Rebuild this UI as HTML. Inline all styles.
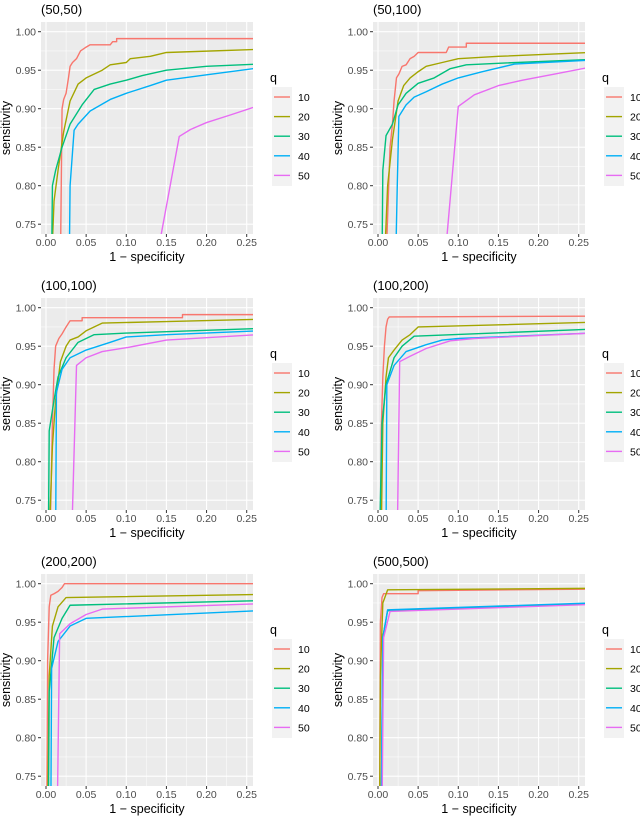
<!DOCTYPE html>
<html><head><meta charset="utf-8"><style>
html,body{margin:0;padding:0;background:#fff;}
svg{display:block;font-family:"Liberation Sans",sans-serif;}
</style></head><body>
<svg id="chart" width="640" height="816" viewBox="0 0 640 816" xmlns="http://www.w3.org/2000/svg"></svg>
<script>
const panelTitles = ["(50,50)","(50,100)","(100,100)","(100,200)","(200,200)","(500,500)"];
const seriesNames = ["10","20","30","40","50"];
const seriesColors = ["#F8766D","#A3A500","#00BF7D","#00B0F6","#E76BF3"];
const xTicks = [0,0.05,0.10,0.15,0.20,0.25];
const xTickLabels = ["0.00","0.05","0.10","0.15","0.20","0.25"];
const yTicks = [0.75,0.80,0.85,0.90,0.95,1.00];
const yTickLabels = ["0.75","0.80","0.85","0.90","0.95","1.00"];

const data_50_50 = [
 [[0.018,0.70],[0.019,0.80],[0.020,0.90],[0.022,0.912],[0.025,0.92],[0.028,0.94],[0.030,0.955],[0.033,0.96],[0.038,0.965],[0.043,0.975],[0.05,0.98],[0.055,0.983],[0.08,0.983],[0.083,0.987],[0.088,0.987],[0.088,0.991],[0.3,0.991]],
 [[0.007,0.70],[0.010,0.78],[0.015,0.82],[0.022,0.87],[0.03,0.91],[0.04,0.932],[0.05,0.94],[0.07,0.95],[0.08,0.957],[0.10,0.96],[0.105,0.965],[0.13,0.968],[0.15,0.973],[0.265,0.977]],
 [[0.007,0.70],[0.008,0.80],[0.012,0.82],[0.02,0.85],[0.03,0.88],[0.045,0.905],[0.06,0.925],[0.08,0.932],[0.10,0.937],[0.12,0.943],[0.15,0.95],[0.20,0.955],[0.265,0.958]],
 [[0.029,0.70],[0.030,0.80],[0.035,0.872],[0.04,0.88],[0.055,0.897],[0.08,0.912],[0.10,0.92],[0.13,0.93],[0.15,0.937],[0.20,0.944],[0.265,0.953]],
 [[0.137,0.70],[0.166,0.864],[0.18,0.873],[0.20,0.882],[0.23,0.892],[0.265,0.904]]
];
const data_50_100 = [
 [[0.010,0.70],[0.015,0.85],[0.018,0.88],[0.02,0.91],[0.023,0.94],[0.026,0.945],[0.03,0.955],[0.035,0.957],[0.04,0.965],[0.045,0.968],[0.05,0.973],[0.085,0.973],[0.088,0.98],[0.11,0.98],[0.11,0.985],[0.3,0.985]],
 [[0.008,0.70],[0.012,0.80],[0.018,0.86],[0.025,0.91],[0.032,0.93],[0.04,0.94],[0.05,0.948],[0.06,0.955],[0.08,0.96],[0.10,0.965],[0.15,0.968],[0.265,0.973]],
 [[0.005,0.70],[0.006,0.82],[0.01,0.865],[0.018,0.88],[0.025,0.905],[0.035,0.92],[0.05,0.933],[0.07,0.94],[0.09,0.952],[0.11,0.957],[0.15,0.959],[0.265,0.964]],
 [[0.022,0.70],[0.024,0.80],[0.026,0.89],[0.035,0.905],[0.045,0.915],[0.06,0.922],[0.08,0.932],[0.10,0.94],[0.13,0.948],[0.17,0.958],[0.265,0.963]],
 [[0.083,0.70],[0.10,0.903],[0.12,0.918],[0.15,0.93],[0.18,0.937],[0.22,0.945],[0.265,0.954]]
];
const data_100_100 = [
 [[0.005,0.70],[0.008,0.85],[0.010,0.92],[0.012,0.95],[0.016,0.96],[0.02,0.966],[0.025,0.975],[0.03,0.983],[0.045,0.983],[0.045,0.987],[0.17,0.987],[0.17,0.991],[0.3,0.991]],
 [[0.004,0.70],[0.008,0.82],[0.012,0.88],[0.018,0.93],[0.025,0.95],[0.03,0.958],[0.04,0.962],[0.05,0.97],[0.07,0.98],[0.15,0.982],[0.265,0.985]],
 [[0.003,0.70],[0.004,0.84],[0.01,0.88],[0.015,0.91],[0.025,0.935],[0.04,0.955],[0.06,0.965],[0.10,0.967],[0.265,0.973]],
 [[0.012,0.70],[0.013,0.89],[0.02,0.92],[0.03,0.935],[0.05,0.945],[0.08,0.955],[0.10,0.962],[0.15,0.965],[0.265,0.97]],
 [[0.032,0.70],[0.038,0.925],[0.05,0.935],[0.07,0.943],[0.10,0.948],[0.15,0.958],[0.265,0.965]]
];
const data_100_200 = [
 [[0.003,0.70],[0.004,0.84],[0.006,0.91],[0.008,0.95],[0.01,0.975],[0.012,0.985],[0.014,0.988],[0.265,0.989]],
 [[0.004,0.70],[0.006,0.85],[0.01,0.91],[0.013,0.935],[0.02,0.945],[0.03,0.958],[0.04,0.965],[0.05,0.975],[0.265,0.981]],
 [[0.002,0.70],[0.005,0.85],[0.01,0.9],[0.02,0.935],[0.03,0.95],[0.045,0.963],[0.265,0.972]],
 [[0.010,0.70],[0.011,0.9],[0.02,0.925],[0.035,0.943],[0.06,0.952],[0.08,0.958],[0.10,0.96],[0.265,0.967]],
 [[0.024,0.70],[0.027,0.93],[0.04,0.937],[0.06,0.947],[0.09,0.957],[0.12,0.96],[0.265,0.967]]
];
const data_200_200 = [
 [[0.001,0.70],[0.002,0.9],[0.004,0.97],[0.006,0.985],[0.01,0.987],[0.015,0.99],[0.02,0.995],[0.023,1.0],[0.3,1.0]],
 [[0.002,0.70],[0.004,0.88],[0.008,0.945],[0.015,0.97],[0.025,0.982],[0.265,0.986]],
 [[0.003,0.70],[0.004,0.86],[0.01,0.93],[0.02,0.955],[0.03,0.972],[0.265,0.978]],
 [[0.006,0.70],[0.007,0.89],[0.015,0.925],[0.03,0.945],[0.05,0.955],[0.265,0.965]],
 [[0.014,0.70],[0.017,0.935],[0.03,0.948],[0.05,0.96],[0.07,0.967],[0.265,0.974]]
];
const data_500_500 = [
 [[0.002,0.70],[0.003,0.95],[0.005,0.982],[0.007,0.987],[0.05,0.987],[0.05,0.991],[0.265,0.993]],
 [[0.002,0.70],[0.003,0.88],[0.006,0.975],[0.012,0.992],[0.265,0.994]],
 [[0.004,0.70],[0.006,0.93],[0.012,0.965],[0.265,0.974]],
 [[0.004,0.70],[0.006,0.93],[0.012,0.966],[0.265,0.975]],
 [[0.005,0.70],[0.007,0.93],[0.015,0.964],[0.265,0.973]]
];
const panelData = [data_50_50, data_50_100, data_100_100, data_100_200, data_200_200, data_500_500];

const NS = "http://www.w3.org/2000/svg";
const svg = document.getElementById("chart");
function mk(tag, attrs, parent){
  const e = document.createElementNS(NS, tag);
  for (const k in attrs) e.setAttribute(k, attrs[k]);
  (parent||svg).appendChild(e);
  return e;
}
const defs = mk("defs", {});

panelData.forEach((series, p) => {
  const col = p % 2, row = Math.floor(p / 2);
  const ox = col * 332, oy = row * 276;
  const px0 = 41 + ox, px1 = 253 + ox, py0 = 22 + oy, py1 = 234 + oy;
  const xs = v => px0 + 5 + v * 802.8;
  const ys = v => py0 + 9.7 + (1 - v) * 770;

  const g = mk("g", {});
  
  

  const title = mk("text", {x: px0, y: py0 - 8, "font-size": 13, fill: "#000"}, g);
  title.textContent = panelTitles[p];
  
  

  const bg = mk("rect", {x: px0, y: py0, width: px1 - px0, height: py1 - py0, fill: "#EBEBEB"}, g);
  
  

  // minor grid
  for (let i = 0; i < xTicks.length; i++) {
    const mx = xTicks[i] + 0.025;
    if (xs(mx) < px1) mk("line", {x1: xs(mx), x2: xs(mx), y1: py0, y2: py1, stroke: "#fff", "stroke-width": 0.5}, g);
  }
  for (let i = 0; i < yTicks.length; i++) {
    const my = yTicks[i] + 0.025;
    if (ys(my) > py0) mk("line", {x1: px0, x2: px1, y1: ys(my), y2: ys(my), stroke: "#fff", "stroke-width": 0.5}, g);
  }
  mk("line", {x1: px0, x2: px1, y1: ys(0.725), y2: ys(0.725), stroke: "#fff", "stroke-width": 0.5}, g);
  // major grid + ticks
  xTicks.forEach((t, i) => {
    const x = xs(t);
    mk("line", {x1: x, x2: x, y1: py0, y2: py1, stroke: "#fff", "stroke-width": 1.1}, g);
    mk("line", {x1: x, x2: x, y1: py1, y2: py1 + 3, stroke: "#333", "stroke-width": 1}, g);
    const tl = mk("text", {x: x, y: py1 + 12, "font-size": 10.5, fill: "#4D4D4D", "text-anchor": "middle"}, g);
    tl.textContent = xTickLabels[i];
    
    
  });
  yTicks.forEach((t, i) => {
    const y = ys(t);
    mk("line", {x1: px0, x2: px1, y1: y, y2: y, stroke: "#fff", "stroke-width": 1.1}, g);
    mk("line", {x1: px0 - 3, x2: px0, y1: y, y2: y, stroke: "#333", "stroke-width": 1}, g);
    const tl = mk("text", {x: px0 - 5, y: y + 3.7, "font-size": 10.5, fill: "#4D4D4D", "text-anchor": "end"}, g);
    tl.textContent = yTickLabels[i];
    
    
  });

  const xt = mk("text", {x: (px0 + px1) / 2, y: py1 + 27, "font-size": 12.5, fill: "#000", "text-anchor": "middle"}, g);
  xt.textContent = "1 \u2212 specificity";
  
  
  const ytx = 10 + ox, yty = (py0 + py1) / 2;
  const yt = mk("text", {x: ytx, y: yty, "font-size": 12.5, fill: "#000", "text-anchor": "middle", transform: "rotate(-90 " + ytx + " " + yty + ")"}, g);
  yt.textContent = "sensitivity";
  
  

  const cp = mk("clipPath", {id: "clip" + p}, defs);
  mk("rect", {x: px0, y: py0, width: px1 - px0, height: py1 - py0}, cp);
  const lg = mk("g", {"clip-path": "url(#clip" + p + ")"}, g);
  series.forEach((pts, s) => {
    const d = pts.map((pt, i) => (i ? "L" : "M") + xs(pt[0]).toFixed(2) + "," + ys(pt[1]).toFixed(2)).join("");
    const path = mk("path", {d: d, fill: "none", stroke: seriesColors[s], "stroke-width": 1.4, "stroke-linejoin": "round"}, lg);
    
    
  });

  // legend
  const lx = 270 + ox, ly = oy;
  const lgd = mk("g", {}, g);
  
  
  const q = mk("text", {x: lx, y: ly + 82, "font-size": 12.5, fill: "#000"}, lgd);
  q.textContent = "q";
  
  
  mk("rect", {x: lx + 2, y: ly + 87, width: 20, height: 99, fill: "#F2F2F2"}, lgd);
  seriesNames.forEach((n, s) => {
    const y = ly + 97 + s * 19.6;
    const e = mk("g", {}, lgd);
    
    
    mk("line", {x1: lx + 4, x2: lx + 20, y1: y, y2: y, stroke: seriesColors[s], "stroke-width": 1.4}, e);
    const t = mk("text", {x: lx + 28, y: y + 4, "font-size": 10.5, fill: "#000"}, e);
    t.textContent = n;
  });
});
</script>
</body></html>
